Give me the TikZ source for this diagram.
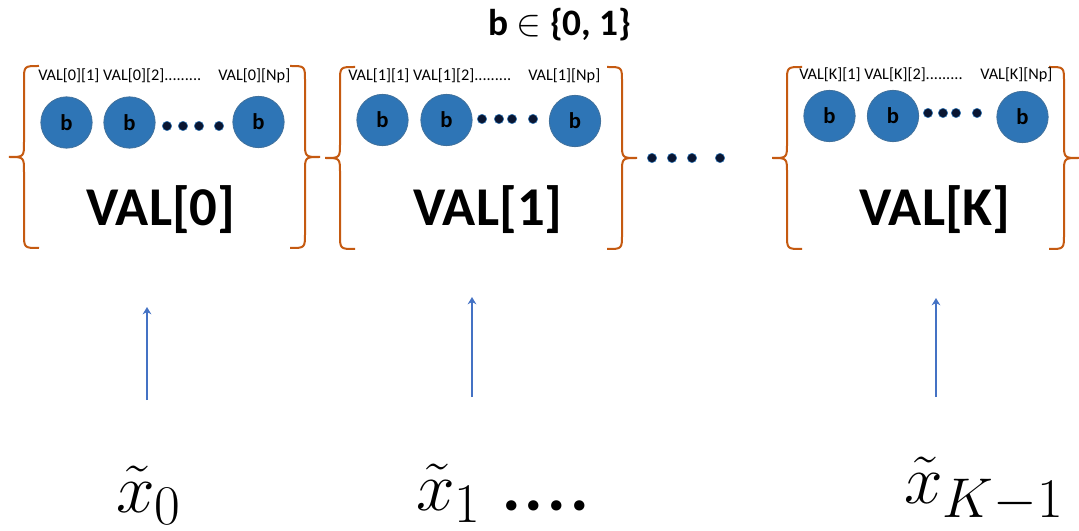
\RequirePackage{fix-cm}
\documentclass[tikz,border=0pt]{standalone}
\usepackage{fontspec}
\setmainfont{Carlito}
\usetikzlibrary{arrows.meta}
\DeclareMathSizes{52}{52}{42}{32}
\definecolor{bfill}{RGB}{46,117,182}
\definecolor{bedge}{RGB}{65,113,156}
\definecolor{brcol}{RGB}{197,90,17}
\definecolor{arcol}{RGB}{68,114,196}
\definecolor{dotcol}{RGB}{10,22,50}
\tikzset{
  bcirc/.style={circle,fill=bfill,draw=bedge,line width=0.6pt,minimum size=38.5pt,inner sep=0pt,font=\fontsize{17}{19}\selectfont\bfseries},
  brc/.style={draw=brcol,line width=1.5pt},
  dotsm/.style={circle,fill=dotcol,draw=bfill,line width=0.4pt,minimum size=7pt,inner sep=0pt},
  smlab/.style={anchor=west,inner sep=0pt,font=\fontsize{12.2}{14}\selectfont},
  biglab/.style={inner sep=0pt,font=\fontsize{41}{45}\selectfont\bfseries},
  uparr/.style={draw=arcol,line width=1.6pt,-{Stealth[length=5.5pt,width=6.5pt]}},
  xlab/.style={anchor=base west,inner sep=0pt,font=\fontsize{52}{56}\selectfont},
  curlyL/.pic={\draw[brc] (15,-91) .. controls (0,-91) .. (0,-76) -- (0,-15) .. controls (0,0) .. (-15,0) .. controls (0,0) .. (0,15) -- (0,76) .. controls (0,91) .. (15,91);},
  curlyR/.pic={\draw[brc] (-15,-91) .. controls (0,-91) .. (0,-76) -- (0,-15) .. controls (0,0) .. (15,0) .. controls (0,0) .. (0,15) -- (0,76) .. controls (0,91) .. (-15,91);}
}
\begin{document}
\begin{tikzpicture}[x=0.75pt,y=-0.75pt]
\useasboundingbox (0,0) rectangle (1079,531);
% title
\node[inner sep=0pt,font=\fontsize{28}{32}\selectfont\bfseries] (title) at (560,25) {b $\in$ \{0, 1\}};
% braces
\pic at (24,157) {curlyL};
\pic at (305,157) {curlyR};
\pic at (340,158) {curlyL};
\pic at (622,158) {curlyR};
\pic at (787,158) {curlyL};
\pic at (1064,158) {curlyR};
% group 0
\node[smlab] (l01) at (38,76) {VAL[0][1] VAL[0][2].........};
\node[smlab] (l0n) at (218,76) {VAL[0][Np]};
\node[bcirc] (c01) at (66.5,122.5) {b};
\node[bcirc] (c02) at (129.5,122.5) {b};
\node[bcirc] (c0n) at (258.5,122) {b};
\node[dotsm] (d01) at (167,126) {};
\node[dotsm] (d02) at (183,126) {};
\node[dotsm] (d03) at (199,126) {};
\node[dotsm] (d04) at (219,126) {};
\node[biglab] (v0) at (161,210) {VAL[0]};
% group 1
\node[smlab] (l11) at (348,76) {VAL[1][1] VAL[1][2].........};
\node[smlab] (l1n) at (528,76) {VAL[1][Np]};
\node[bcirc] (c11) at (382.5,120) {b};
\node[bcirc] (c12) at (446.5,120) {b};
\node[bcirc] (c1n) at (575,121) {b};
\node[dotsm] (d11) at (482,119) {};
\node[dotsm] (d12) at (499,119) {};
\node[dotsm] (d13) at (512,119) {};
\node[dotsm] (d14) at (533,119) {};
\node[biglab] (v1) at (488,210) {VAL[1]};
% middle dots
\node[dotsm] (m1) at (652,158) {};
\node[dotsm] (m2) at (672,158) {};
\node[dotsm] (m3) at (692,158) {};
\node[dotsm] (m4) at (720,158) {};
% group K
\node[smlab] (lk1) at (799,75) {VAL[K][1] VAL[K][2].........};
\node[smlab] (lkn) at (980,75) {VAL[K][Np]};
\node[bcirc] (ck1) at (829.5,116) {b};
\node[bcirc] (ck2) at (893,116) {b};
\node[bcirc] (ckn) at (1022.5,117) {b};
\node[dotsm] (dk1) at (928,113) {};
\node[dotsm] (dk2) at (943,113) {};
\node[dotsm] (dk3) at (956,113) {};
\node[dotsm] (dk4) at (977,113) {};
\node[biglab] (vk) at (935,210) {VAL[K]};
% arrows
\coordinate (a0s) at (147,400);
\coordinate (a0e) at (147,307);
\coordinate (a1s) at (472,397);
\coordinate (a1e) at (472,297);
\coordinate (aks) at (936,397);
\coordinate (ake) at (936,298);
\draw[uparr] (a0s) -- (a0e);
\draw[uparr] (a1s) -- (a1e);
\draw[uparr] (aks) -- (ake);
% bottom labels
\node[xlab] (x0) at (116,512) {$\tilde{x}_0$};
\node[xlab] (x1) at (416,510) {$\tilde{x}_1$\hspace{16pt}{\bfseries .\kern3pt.\kern3pt.\kern3pt.}};
\node[xlab] (xk) at (904,503) {$\tilde{x}_{K-1}$};
\end{tikzpicture}
\end{document}
